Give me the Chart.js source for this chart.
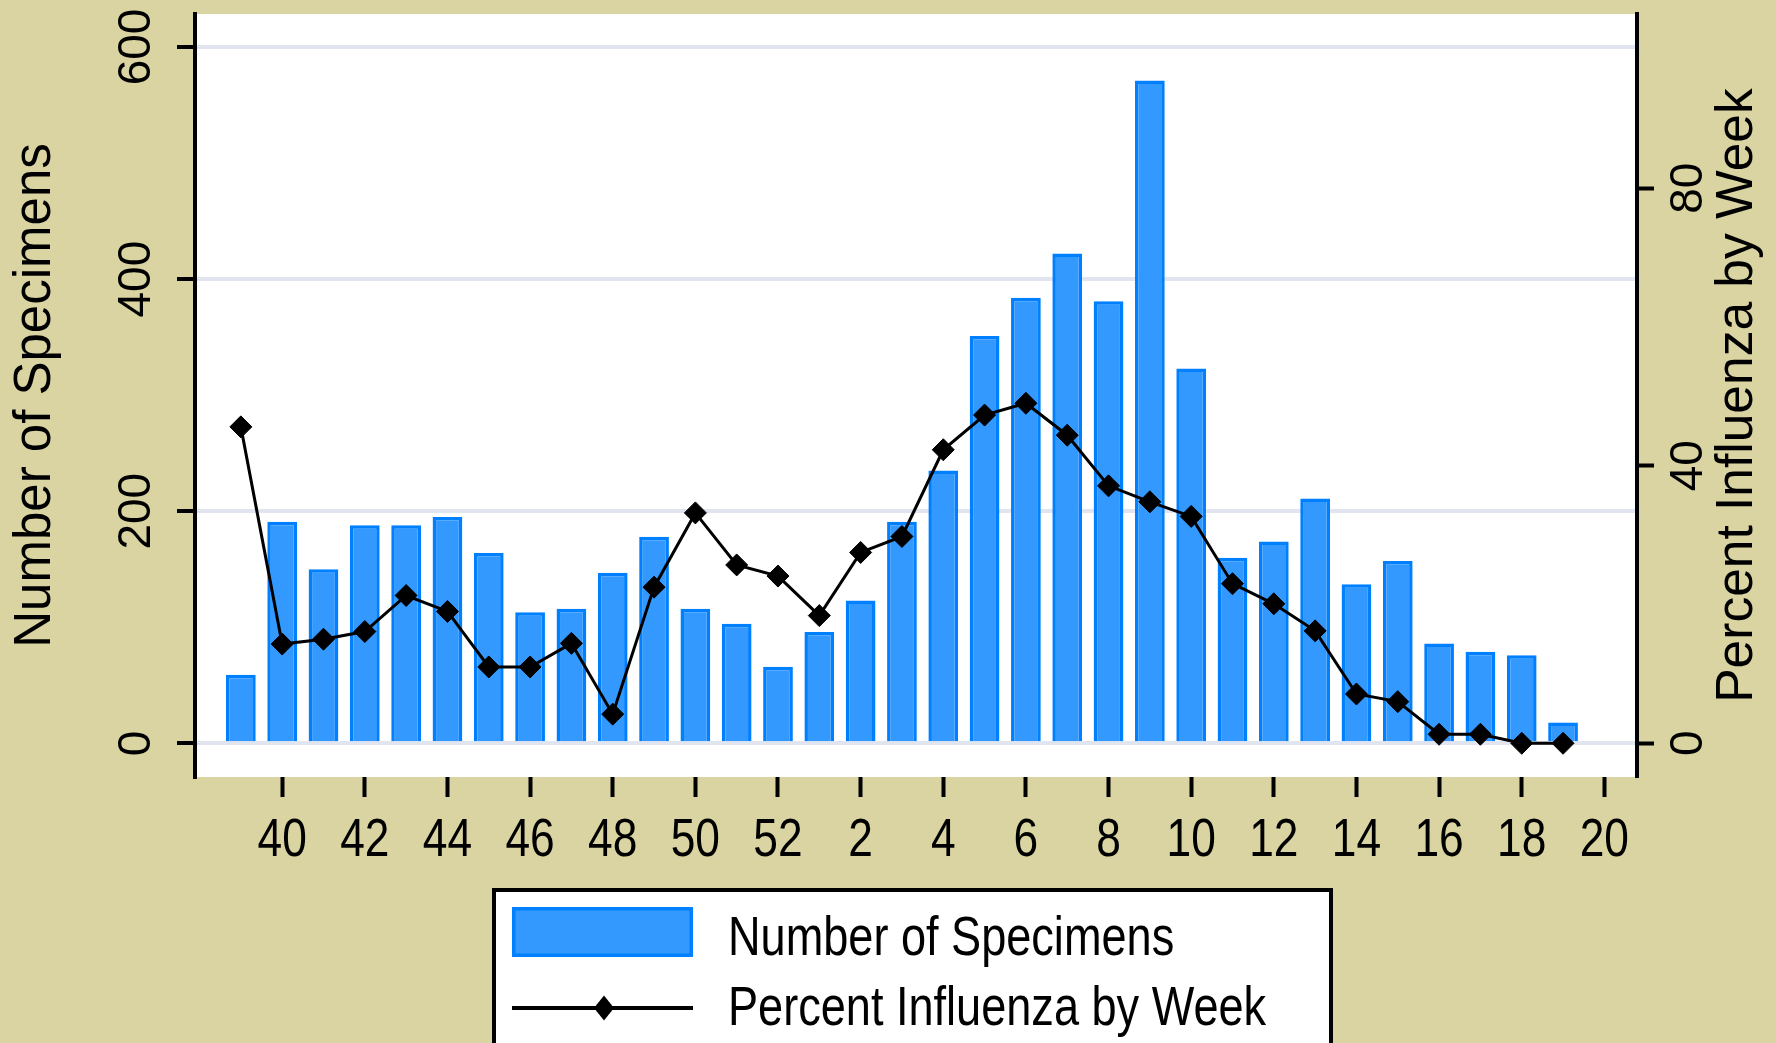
<!DOCTYPE html>
<html>
<head>
<meta charset="utf-8">
<script src="https://cdn.jsdelivr.net/npm/chart.js@4/dist/chart.umd.min.js"></script>
<style>
  html, body { margin: 0; padding: 0; background: #D9D4A1; }
  canvas { display: block; }
</style>
</head>
<body>
<canvas id="c" width="1776" height="1043"></canvas>
<script>
// ---- data ----
const weeks = ['39','40','41','42','43','44','45','46','47','48','49','50','51','52',
               '1','2','3','4','5','6','7','8','9','10','11','12','13','14','15','16','17','18','19','20'];
const specimens = [59,191,150,188,188,195,164,113,116,147,178,116,103,66,
                   96,123,191,235,351,384,422,381,571,323,160,174,211,137,157,86,79,76,18];
const percentFlu = [45.6,14.3,15.0,16.1,21.3,19.0,11.0,11.0,14.4,4.2,22.5,33.2,25.7,24.1,
                    18.4,27.5,29.8,42.3,47.3,49.0,44.4,37.1,34.8,32.7,23.0,20.1,16.2,7.1,6.0,1.3,1.3,0.0,0.0];
const xTickLabels = ['40','42','44','46','48','50','52','2','4','6','8','10','12','14','16','18','20'];
const leftTicks = [0, 200, 400, 600];
const rightTicks = [0, 40, 80];
const xRange = [-1.11, 33.79];
const leftRange = [-29.0, 628.4];
const rightRange = [-4.86, 105.1];
const seriesNames = ['Number of Specimens', 'Percent Influenza by Week'];
const axisTitles = ['Number of Specimens', 'Percent Influenza by Week'];

// ---- styles ----
const BG = '#D9D4A1';
const BAR_FILL = '#3399FF';
const BAR_EDGE = '#0080FF';
const GRID = '#E1E5F0';
const WIDE = '"Liberation Sans", Arial, sans-serif';
const NARROW_SCALE = 0.82;

const barData = specimens.map((v, i) => ({ x: i, y: v }));
const lineData = percentFlu.map((v, i) => ({ x: i, y: v }));

function rotatedText(ctx, text, x, y, font) {
  ctx.save();
  ctx.translate(x, y);
  ctx.rotate(-Math.PI / 2);
  ctx.font = font;
  ctx.fillStyle = '#000';
  ctx.textAlign = 'center';
  ctx.textBaseline = 'alphabetic';
  ctx.fillText(text, 0, 0);
  ctx.restore();
}

function narrowText(ctx, text, x, y, font, align) {
  ctx.save();
  ctx.translate(x, y);
  ctx.scale(NARROW_SCALE, 1);
  ctx.font = font;
  ctx.fillStyle = '#000';
  ctx.textAlign = align;
  ctx.textBaseline = 'alphabetic';
  ctx.fillText(text, 0, 0);
  ctx.restore();
}

const decor = {
  id: 'decor',
  beforeDraw(chart) {
    const { ctx, chartArea: a, width, height } = chart;
    ctx.save();
    ctx.fillStyle = BG;
    ctx.fillRect(0, 0, width, height);
    ctx.fillStyle = '#FFFFFF';
    ctx.fillRect(a.left, a.top, a.right - a.left, a.bottom - a.top);
    ctx.restore();
  },
  afterDraw(chart) {
    const { ctx, chartArea: a } = chart;
    const midY = (a.top + a.bottom) / 2;
    rotatedText(ctx, axisTitles[0], 50, midY, '51px ' + WIDE);
    rotatedText(ctx, axisTitles[1], 1752, midY, '51.5px ' + WIDE);

    // x tick labels, positioned by the x scale
    const xs = chart.scales.x;
    xTickLabels.forEach(l => {
      const px = xs.getPixelForValue(weeks.indexOf(l));
      narrowText(ctx, l, px, xs.top + 79, '54px ' + WIDE, 'center');
    });

    // legend
    ctx.save();
    ctx.fillStyle = '#FFFFFF';
    ctx.fillRect(492, 888, 841, 200);
    ctx.strokeStyle = '#000';
    ctx.lineWidth = 4;
    ctx.strokeRect(494, 890, 837, 200);

    const ds0 = chart.data.datasets[0];
    const ds1 = chart.data.datasets[1];
    ctx.fillStyle = ds0.borderColor;
    ctx.fillRect(512, 907, 181, 50);
    ctx.fillStyle = ds0.backgroundColor;
    ctx.fillRect(515.5, 910.5, 174, 43);

    ctx.strokeStyle = ds1.borderColor;
    ctx.lineWidth = 4;
    ctx.beginPath();
    ctx.moveTo(512, 1008);
    ctx.lineTo(693, 1008);
    ctx.stroke();
    ctx.fillStyle = ds1.pointBackgroundColor;
    ctx.beginPath();
    ctx.moveTo(604, 995.5);
    ctx.lineTo(614, 1008);
    ctx.lineTo(604, 1020.5);
    ctx.lineTo(594, 1008);
    ctx.closePath();
    ctx.fill();
    ctx.restore();

    narrowText(ctx, seriesNames[0], 728, 955, '55px ' + WIDE, 'left');
    narrowText(ctx, seriesNames[1], 728, 1025, '55px ' + WIDE, 'left');
  }
};

new Chart(document.getElementById('c'), {
  data: {
    datasets: [
      {
        type: 'bar',
        label: seriesNames[0],
        data: barData,
        yAxisID: 'y',
        backgroundColor: BAR_FILL,
        borderColor: BAR_EDGE,
        borderWidth: 3.5,
        barPercentage: 0.72,
        categoryPercentage: 1.0,
        order: 2
      },
      {
        type: 'line',
        label: seriesNames[1],
        data: lineData,
        yAxisID: 'y1',
        borderColor: '#000000',
        borderWidth: 3,
        tension: 0,
        pointStyle: 'rectRot',
        pointRadius: 11,
        pointBackgroundColor: '#000000',
        pointBorderColor: '#000000',
        pointBorderWidth: 1,
        order: 1
      }
    ]
  },
  options: {
    responsive: false,
    animation: false,
    events: [],
    layout: { padding: { top: 14, left: 0, right: 0, bottom: 0 } },
    plugins: { legend: { display: false }, tooltip: { enabled: false } },
    scales: {
      x: {
        type: 'linear',
        position: 'bottom',
        offset: false,
        min: xRange[0],
        max: xRange[1],
        afterBuildTicks(scale) { scale.ticks = xTickLabels.map(l => ({ value: weeks.indexOf(l) })); },
        afterFit(scale) { scale.height = 266; scale.paddingLeft = 0; scale.paddingRight = 0; },
        grid: { offset: false, drawOnChartArea: false, drawTicks: true, tickLength: 20, tickWidth: 4, tickColor: '#000' },
        border: { display: false },
        ticks: { display: false, autoSkip: false, maxRotation: 0, minRotation: 0 }
      },
      y: {
        type: 'linear',
        position: 'left',
        min: leftRange[0],
        max: leftRange[1],
        afterBuildTicks(scale) { scale.ticks = leftTicks.map(v => ({ value: v })); },
        afterFit(scale) { scale.width = 195; scale.paddingTop = 0; scale.paddingBottom = 0; },
        grid: { drawOnChartArea: true, color: GRID, lineWidth: 4, drawTicks: true, tickLength: 18, tickWidth: 4, tickColor: '#000' },
        border: { display: true, color: '#000', width: 4 },
        ticks: {
          minRotation: 90, maxRotation: 90, crossAlign: 'center', padding: 1,
          color: '#000',
          font: { family: WIDE, size: 46 },
          callback: (v) => String(v)
        }
      },
      y1: {
        type: 'linear',
        position: 'right',
        min: rightRange[0],
        max: rightRange[1],
        afterBuildTicks(scale) { scale.ticks = rightTicks.map(v => ({ value: v })); },
        afterFit(scale) { scale.width = 139; scale.paddingTop = 0; scale.paddingBottom = 0; },
        grid: { drawOnChartArea: false, drawTicks: true, tickLength: 17, tickWidth: 4, tickColor: '#000' },
        border: { display: true, color: '#000', width: 4 },
        ticks: {
          minRotation: 90, maxRotation: 90, crossAlign: 'center', padding: 10,
          color: '#000',
          font: { family: WIDE, size: 46 },
          callback: (v) => String(v)
        }
      }
    }
  },
  plugins: [decor]
});
</script>
</body>
</html>
